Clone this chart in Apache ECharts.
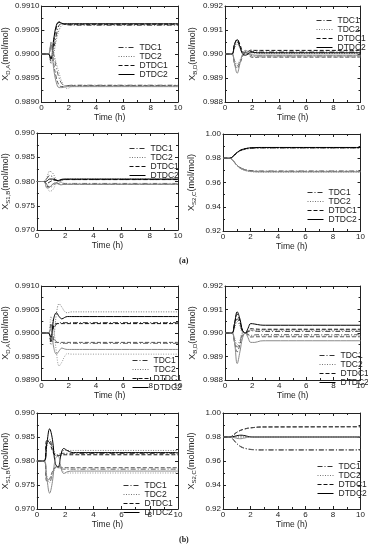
<!DOCTYPE html>
<html>
<head>
<meta charset="utf-8">
<script src="https://cdn.jsdelivr.net/npm/echarts@6/dist/echarts.min.js"></script>
<style>
  html, body { margin: 0; padding: 0; background: #fff; }
  #chart { width: 368px; height: 550px; }
</style>
</head>
<body>
<div id="chart"></div>
<script>
// time axis (h), shared by every curve
const time = [0, 0.5, 0.7, 0.9, 1.1, 1.3, 1.5, 1.7, 1.9, 2.2, 2.6, 3, 10];
const controllers = ["TDC1", "TDC2", "DTDC1", "DTDC2"];

// (a) X_D,A
const a1_TDC1_up = [0.99, 0.99, 0.98985, 0.9901, 0.9904, 0.9906, 0.99063, 0.99062, 0.99061, 0.9906, 0.9906, 0.9906, 0.9906];
const a1_TDC1_dn = [0.99, 0.99, 0.99015, 0.99, 0.9897, 0.9895, 0.98938, 0.98934, 0.98934, 0.98935, 0.98935, 0.98935, 0.98935];
const a1_TDC2_up = [0.99, 0.99, 0.9898, 0.99, 0.9903, 0.9905, 0.9906, 0.99062, 0.99062, 0.99061, 0.99061, 0.99061, 0.99061];
const a1_TDC2_dn = [0.99, 0.99, 0.9901, 0.99, 0.9898, 0.9896, 0.98942, 0.98932, 0.98928, 0.98932, 0.98934, 0.98934, 0.98934];
const a1_DTDC1_up = [0.99, 0.99, 0.9899, 0.99025, 0.99055, 0.99066, 0.99064, 0.99062, 0.99062, 0.99062, 0.99062, 0.99062, 0.99062];
const a1_DTDC1_dn = [0.99, 0.99, 0.9902, 0.9898, 0.9895, 0.98935, 0.98932, 0.98933, 0.98934, 0.98934, 0.98934, 0.98934, 0.98934];
const a1_DTDC2_up = [0.99, 0.99, 0.9899, 0.9903, 0.9906, 0.99067, 0.99064, 0.99063, 0.99063, 0.99063, 0.99063, 0.99063, 0.99063];
const a1_DTDC2_dn = [0.99, 0.99, 0.99025, 0.9897, 0.9894, 0.9893, 0.9893, 0.98931, 0.98932, 0.98932, 0.98932, 0.98932, 0.98932];

// (a) X_B,D
const a2_TDC1_up = [0.99, 0.99, 0.9903, 0.9905, 0.9903, 0.99005, 0.99, 0.99005, 0.9901, 0.99009, 0.99008, 0.99008, 0.99008];
const a2_TDC1_dn = [0.99, 0.99, 0.9897, 0.9895, 0.9897, 0.98995, 0.9901, 0.99005, 0.98995, 0.98991, 0.98992, 0.98992, 0.98992];
const a2_TDC2_up = [0.99, 0.99, 0.99025, 0.9904, 0.99025, 0.99005, 0.99, 0.99003, 0.99005, 0.99003, 0.99002, 0.99002, 0.99002];
const a2_TDC2_dn = [0.99, 0.99, 0.98975, 0.9896, 0.98975, 0.98995, 0.99012, 0.99005, 0.98992, 0.98987, 0.98988, 0.98988, 0.98988];
const a2_DTDC1_up = [0.99, 0.99, 0.9904, 0.9906, 0.9904, 0.9901, 0.99005, 0.9901, 0.99016, 0.99015, 0.99015, 0.99015, 0.99015];
const a2_DTDC1_dn = [0.99, 0.99, 0.9896, 0.9894, 0.9896, 0.9899, 0.9901, 0.99, 0.98988, 0.98986, 0.98987, 0.98987, 0.98987];
const a2_DTDC2_up = [0.99, 0.99, 0.9904, 0.9906, 0.9903, 0.99, 0.98995, 0.99, 0.99008, 0.99006, 0.99005, 0.99005, 0.99005];
const a2_DTDC2_dn = [0.99, 0.99, 0.9896, 0.9892, 0.9896, 0.99, 0.99015, 0.9901, 0.99, 0.98995, 0.98995, 0.98995, 0.98995];

// (a) X_S1,B
const a3_TDC1_up = [0.98, 0.98, 0.9806, 0.9812, 0.981, 0.9804, 0.9801, 0.9802, 0.9804, 0.9804, 0.9804, 0.9804, 0.9804];
const a3_TDC1_dn = [0.98, 0.98, 0.9794, 0.9788, 0.979, 0.9796, 0.9799, 0.9798, 0.9796, 0.9796, 0.9796, 0.9796, 0.9796];
const a3_TDC2_up = [0.98, 0.98, 0.9808, 0.9821, 0.9818, 0.9808, 0.98, 0.9801, 0.9804, 0.9805, 0.9805, 0.9805, 0.9805];
const a3_TDC2_dn = [0.98, 0.98, 0.9792, 0.978, 0.9782, 0.9792, 0.98, 0.9799, 0.9796, 0.9795, 0.9795, 0.9795, 0.9795];
const a3_DTDC1_up = [0.98, 0.98, 0.9796, 0.9799, 0.9802, 0.9803, 0.9802, 0.9803, 0.9804, 0.9804, 0.9804, 0.9804, 0.9804];
const a3_DTDC1_dn = [0.98, 0.98, 0.979, 0.9789, 0.9794, 0.9797, 0.9796, 0.9794, 0.9794, 0.9794, 0.9794, 0.9794, 0.9794];
const a3_DTDC2_up = [0.98, 0.98, 0.9801, 0.9805, 0.9805, 0.9803, 0.9802, 0.9804, 0.9805, 0.9805, 0.9805, 0.9805, 0.9805];
const a3_DTDC2_dn = [0.98, 0.98, 0.9787, 0.9788, 0.9794, 0.9797, 0.9795, 0.9793, 0.9794, 0.9794, 0.9794, 0.9794, 0.9794];

// (a) X_S2,C
const a4_TDC1_up = [0.98, 0.98, 0.9812, 0.9834, 0.9852, 0.9865, 0.9872, 0.9877, 0.9881, 0.9883, 0.9885, 0.9885, 0.9885];
const a4_TDC1_dn = [0.98, 0.98, 0.9785, 0.9758, 0.9736, 0.972, 0.9711, 0.9704, 0.97, 0.9697, 0.9695, 0.9695, 0.9695];
const a4_TDC2_up = [0.98, 0.98, 0.9812, 0.9833, 0.9851, 0.9863, 0.9871, 0.9876, 0.9879, 0.9881, 0.9883, 0.9883, 0.9883];
const a4_TDC2_dn = [0.98, 0.98, 0.9784, 0.9754, 0.973, 0.9713, 0.9702, 0.9695, 0.9691, 0.9687, 0.9685, 0.9685, 0.9685];
const a4_DTDC1_up = [0.98, 0.98, 0.9812, 0.9835, 0.9854, 0.9867, 0.9875, 0.988, 0.9884, 0.9886, 0.9888, 0.9888, 0.9888];
const a4_DTDC1_dn = [0.98, 0.98, 0.9785, 0.9757, 0.9734, 0.9718, 0.9708, 0.9702, 0.9697, 0.9694, 0.9692, 0.9692, 0.9692];
const a4_DTDC2_up = [0.98, 0.98, 0.9812, 0.9836, 0.9854, 0.9868, 0.9876, 0.9881, 0.9885, 0.9887, 0.9889, 0.9889, 0.9889];
const a4_DTDC2_dn = [0.98, 0.98, 0.9784, 0.9755, 0.9732, 0.9715, 0.9705, 0.9698, 0.9694, 0.969, 0.9688, 0.9688, 0.9688];

// (b) X_D,A
const b1_TDC1_up = [0.99, 0.99, 0.98995, 0.9901, 0.99018, 0.99022, 0.99022, 0.99022, 0.99022, 0.99022, 0.99022, 0.99022, 0.99022];
const b1_TDC1_dn = [0.99, 0.99, 0.99005, 0.9899, 0.98982, 0.98978, 0.98978, 0.98978, 0.98978, 0.98978, 0.98978, 0.98978, 0.98978];
const b1_TDC2_up = [0.99, 0.99, 0.98975, 0.9899, 0.9904, 0.99062, 0.99055, 0.99046, 0.99043, 0.99045, 0.99045, 0.99045, 0.99045];
const b1_TDC2_dn = [0.99, 0.99, 0.99035, 0.9901, 0.9896, 0.9893, 0.98938, 0.9895, 0.98956, 0.98955, 0.98955, 0.98955, 0.98955];
const b1_DTDC1_up = [0.99, 0.99, 0.9898, 0.99015, 0.9902, 0.9902, 0.9902, 0.9902, 0.9902, 0.9902, 0.9902, 0.9902, 0.9902];
const b1_DTDC1_dn = [0.99, 0.99, 0.9902, 0.98985, 0.9898, 0.9898, 0.9898, 0.9898, 0.9898, 0.9898, 0.9898, 0.9898, 0.9898];
const b1_DTDC2_up = [0.99, 0.99, 0.9899, 0.9903, 0.99043, 0.99035, 0.9903, 0.99033, 0.99035, 0.99035, 0.99035, 0.99035, 0.99035];
const b1_DTDC2_dn = [0.99, 0.99, 0.9901, 0.9897, 0.98955, 0.98962, 0.98968, 0.98966, 0.98965, 0.98965, 0.98965, 0.98965, 0.98965];

// (b) X_B,D
const b2_TDC1_up = [0.99, 0.99, 0.9903, 0.9906, 0.9904, 0.99005, 0.99, 0.99005, 0.9901, 0.99008, 0.99007, 0.99007, 0.99007];
const b2_TDC1_dn = [0.99, 0.99, 0.9897, 0.9894, 0.9896, 0.99, 0.99002, 0.98995, 0.9899, 0.98992, 0.98993, 0.98993, 0.98993];
const b2_TDC2_up = [0.99, 0.99, 0.9902, 0.9905, 0.9903, 0.99, 0.98998, 0.99004, 0.9901, 0.99012, 0.99012, 0.99012, 0.99012];
const b2_TDC2_dn = [0.99, 0.99, 0.9898, 0.9895, 0.9897, 0.99, 0.99, 0.98993, 0.98988, 0.98988, 0.98988, 0.98988, 0.98988];
const b2_DTDC1_up = [0.99, 0.99, 0.9904, 0.9908, 0.9905, 0.9901, 0.99, 0.9901, 0.99018, 0.99017, 0.99016, 0.99016, 0.99016];
const b2_DTDC1_dn = [0.99, 0.99, 0.9896, 0.9892, 0.9895, 0.9899, 0.99, 0.9899, 0.98983, 0.98984, 0.98984, 0.98984, 0.98984];
const b2_DTDC2_up = [0.99, 0.99, 0.9904, 0.9909, 0.9906, 0.9901, 0.99, 0.9902, 0.9904, 0.99038, 0.99034, 0.99033, 0.99033];
const b2_DTDC2_dn = [0.99, 0.99, 0.9896, 0.9887, 0.9892, 0.9898, 0.99, 0.9898, 0.9896, 0.9896, 0.98966, 0.98967, 0.98967];

// (b) X_S1,B
const b3_TDC1_up = [0.98, 0.98, 0.9838, 0.9842, 0.9826, 0.9812, 0.9812, 0.9815, 0.9816, 0.9816, 0.9816, 0.9816, 0.9816];
const b3_TDC1_dn = [0.98, 0.98, 0.9762, 0.9758, 0.9773, 0.9786, 0.9786, 0.9784, 0.9783, 0.9783, 0.9783, 0.9783, 0.9783];
const b3_TDC2_up = [0.98, 0.98, 0.983, 0.9845, 0.9832, 0.9815, 0.9813, 0.9818, 0.9822, 0.9822, 0.9822, 0.9822, 0.9822];
const b3_TDC2_dn = [0.98, 0.98, 0.977, 0.9755, 0.9768, 0.9785, 0.9787, 0.9782, 0.9777, 0.9775, 0.9775, 0.9775, 0.9775];
const b3_DTDC1_up = [0.98, 0.98, 0.9843, 0.9838, 0.9822, 0.9812, 0.9811, 0.9812, 0.9813, 0.9813, 0.9813, 0.9813, 0.9813];
const b3_DTDC1_dn = [0.98, 0.98, 0.9758, 0.9763, 0.9778, 0.9787, 0.9788, 0.9787, 0.9786, 0.9786, 0.9786, 0.9786, 0.9786];
const b3_DTDC2_up = [0.98, 0.98, 0.9835, 0.9867, 0.9845, 0.9795, 0.9787, 0.9812, 0.9826, 0.9821, 0.98175, 0.98175, 0.98175];
const b3_DTDC2_dn = [0.98, 0.98, 0.9765, 0.9733, 0.9757, 0.9805, 0.981, 0.9788, 0.9774, 0.9778, 0.9779, 0.9779, 0.9779];

// (b) X_S2,C
const b4_TDC1_up = [0.98, 0.98, 0.9785, 0.9757, 0.9734, 0.9718, 0.9708, 0.9702, 0.9697, 0.9694, 0.9692, 0.9692, 0.9692];
const b4_TDC1_dn = [0.98, 0.98, 0.9786, 0.9758, 0.9736, 0.972, 0.971, 0.9704, 0.9699, 0.9695, 0.9693, 0.9693, 0.9693];
const b4_TDC2_up = [0.98, 0.98, 0.9801, 0.9804, 0.9806, 0.9805, 0.9803, 0.9801, 0.98, 0.98, 0.98, 0.98, 0.98];
const b4_TDC2_dn = [0.98, 0.98, 0.9799, 0.9796, 0.9794, 0.9795, 0.9797, 0.9799, 0.98, 0.98, 0.98, 0.98, 0.98];
const b4_DTDC1_up = [0.98, 0.98, 0.9812, 0.9831, 0.9846, 0.9857, 0.9865, 0.9871, 0.9875, 0.9879, 0.9883, 0.9884, 0.9886];
const b4_DTDC1_dn = [0.98, 0.98, 0.9811, 0.983, 0.9845, 0.9856, 0.9864, 0.987, 0.9874, 0.9878, 0.9882, 0.9883, 0.9885];
const b4_DTDC2_up = [0.98, 0.98, 0.9802, 0.9808, 0.9813, 0.9815, 0.9813, 0.9808, 0.9803, 0.98, 0.98, 0.98, 0.98];
const b4_DTDC2_dn = [0.98, 0.98, 0.9798, 0.9792, 0.9787, 0.9786, 0.979, 0.9795, 0.9799, 0.98, 0.98, 0.98, 0.98];

// y-axis ticks per variable
const yTicksDA = { min: 0.989, max: 0.991, step: 0.0005, digits: 4 };
const yTicksBD = { min: 0.988, max: 0.992, step: 0.001, digits: 3 };
const yTicksS1B = { min: 0.97, max: 0.99, step: 0.005, digits: 3 };
const yTicksS2C = { min: 0.92, max: 1.0, step: 0.02, digits: 2 };

// layout of the eight panels: [left, top, width, height], legend pos, y name gap
const panels = [
  { box: [39, 6, 139, 96], sub: "D,A", ticks: yTicksDA, gap: 25, legend: [113, 38],
    curves: { TDC1: [a1_TDC1_up, a1_TDC1_dn], TDC2: [a1_TDC2_up, a1_TDC2_dn], DTDC1: [a1_DTDC1_up, a1_DTDC1_dn], DTDC2: [a1_DTDC2_up, a1_DTDC2_dn] } },
  { box: [225, 6, 137, 96], sub: "B,D", ticks: yTicksBD, gap: 27, legend: [311, 11],
    curves: { TDC1: [a2_TDC1_up, a2_TDC1_dn], TDC2: [a2_TDC2_up, a2_TDC2_dn], DTDC1: [a2_DTDC1_up, a2_DTDC1_dn], DTDC2: [a2_DTDC2_up, a2_DTDC2_dn] } },
  { box: [34, 133, 144, 97], sub: "S1,B", ticks: yTicksS1B, gap: 22, legend: [124, 139],
    curves: { TDC1: [a3_TDC1_up, a3_TDC1_dn], TDC2: [a3_TDC2_up, a3_TDC2_dn], DTDC1: [a3_DTDC1_up, a3_DTDC1_dn], DTDC2: [a3_DTDC2_up, a3_DTDC2_dn] } },
  { box: [223, 134, 139, 97], sub: "S2,C", ticks: yTicksS2C, gap: 26, legend: [302, 183],
    curves: { TDC1: [a4_TDC1_up, a4_TDC1_dn], TDC2: [a4_TDC2_up, a4_TDC2_dn], DTDC1: [a4_DTDC1_up, a4_DTDC1_dn], DTDC2: [a4_DTDC2_up, a4_DTDC2_dn] } },
  { box: [38, 286, 140, 94], sub: "D,A", ticks: yTicksDA, gap: 25, legend: [127, 351],
    curves: { TDC1: [b1_TDC1_up, b1_TDC1_dn], TDC2: [b1_TDC2_up, b1_TDC2_dn], DTDC1: [b1_DTDC1_up, b1_DTDC1_dn], DTDC2: [b1_DTDC2_up, b1_DTDC2_dn] } },
  { box: [225, 286, 137, 94], sub: "B,D", ticks: yTicksBD, gap: 27, legend: [314, 346],
    curves: { TDC1: [b2_TDC1_up, b2_TDC1_dn], TDC2: [b2_TDC2_up, b2_TDC2_dn], DTDC1: [b2_DTDC1_up, b2_DTDC1_dn], DTDC2: [b2_DTDC2_up, b2_DTDC2_dn] } },
  { box: [34, 413, 144, 96], sub: "S1,B", ticks: yTicksS1B, gap: 22, legend: [118, 476],
    curves: { TDC1: [b3_TDC1_up, b3_TDC1_dn], TDC2: [b3_TDC2_up, b3_TDC2_dn], DTDC1: [b3_DTDC1_up, b3_DTDC1_dn], DTDC2: [b3_DTDC2_up, b3_DTDC2_dn] } },
  { box: [223, 413, 139, 96], sub: "S2,C", ticks: yTicksS2C, gap: 26, legend: [312, 457],
    curves: { TDC1: [b4_TDC1_up, b4_TDC1_dn], TDC2: [b4_TDC2_up, b4_TDC2_dn], DTDC1: [b4_DTDC1_up, b4_DTDC1_dn], DTDC2: [b4_DTDC2_up, b4_DTDC2_dn] } },
];

// line styles: dash-dot, dotted, dashed, solid
const dashes = { TDC1: [5, 2, 1, 2], TDC2: [1, 1.5], DTDC1: [4, 2], DTDC2: "solid" };
const colorsUp = { TDC1: "#333", TDC2: "#777", DTDC1: "#111", DTDC2: "#000" };
const colorsDn = { TDC1: "#666", TDC2: "#999", DTDC1: "#555", DTDC2: "#8a8a8a" };

const ink = "#222";
const font = "Liberation Sans";

const chart = echarts.init(document.getElementById("chart"));
const grids = [], xAxes = [], yAxes = [], legends = [], series = [];

panels.forEach((p, i) => {
  grids.push({ left: p.box[0], top: p.box[1], width: p.box[2], height: p.box[3] });
  const line = { lineStyle: { color: ink, width: 1 } };
  const tick = { inside: true, length: 3, lineStyle: { color: ink } };
  const minor = { show: true, splitNumber: 2, length: 2, lineStyle: { color: ink } };
  // bottom / top x axes
  xAxes.push({
    gridIndex: i, type: "value", min: 0, max: 10, interval: 2,
    name: "Time (h)", nameLocation: "middle", nameGap: 10,
    nameTextStyle: { fontSize: 8.5, color: ink, fontFamily: font },
    axisLine: { onZero: false, ...line }, axisTick: tick, minorTick: minor,
    splitLine: { show: false },
    axisLabel: { fontSize: 8, color: ink, fontFamily: font, margin: 2 },
  });
  xAxes.push({
    gridIndex: i, type: "value", position: "top", min: 0, max: 10, interval: 2,
    axisLine: { onZero: false, ...line }, axisTick: tick, minorTick: minor,
    splitLine: { show: false }, axisLabel: { show: false },
  });
  // left / right y axes
  const t = p.ticks;
  yAxes.push({
    gridIndex: i, type: "value", min: t.min, max: t.max, interval: t.step,
    name: "{x|X}{s|" + p.sub + "}{x|(mol/mol)}", nameLocation: "middle", nameGap: p.gap,
    nameTextStyle: {
      color: ink, fontFamily: font,
      rich: {
        x: { fontSize: 9, color: ink, fontFamily: font },
        s: { fontSize: 6, color: ink, fontFamily: font, verticalAlign: "bottom", padding: [5, 0, 0, 0] },
      },
    },
    axisLine: { onZero: false, ...line }, axisTick: tick, minorTick: minor,
    splitLine: { show: false },
    axisLabel: { fontSize: 8, color: ink, fontFamily: font, margin: 2, formatter: (v) => v.toFixed(t.digits) },
  });
  yAxes.push({
    gridIndex: i, type: "value", position: "right", min: t.min, max: t.max, interval: t.step,
    axisLine: { onZero: false, ...line }, axisTick: tick, minorTick: minor,
    splitLine: { show: false }, axisLabel: { show: false },
  });

  // legend: keep the dashed line icon, hide the symbol marker
  legends.push({
    data: controllers, orient: "vertical", left: p.legend[0], top: p.legend[1],
    itemWidth: 16, itemHeight: 9, itemGap: 0, selectedMode: false,
    itemStyle: { color: "rgba(0,0,0,0)", borderWidth: 0, borderColor: "rgba(0,0,0,0)" },
    lineStyle: { width: 1 },
    textStyle: { fontSize: 8.5, color: ink, fontFamily: font, lineHeight: 9 },
  });

  controllers.forEach((c) => {
    p.curves[c].forEach((vals, k) => {
      const color = k === 0 ? colorsUp[c] : colorsDn[c];
      series.push({
        name: c, type: "line", xAxisIndex: 2 * i, yAxisIndex: 2 * i,
        data: time.map((tt, j) => [tt, vals[j]]),
        smooth: 0.4, symbol: "none", silent: true,
        lineStyle: { color: color, width: 1, type: dashes[c] },
        itemStyle: { color: color },
      });
    });
  });
});

const option = {
  animation: false,
  backgroundColor: "#fff",
  grid: grids,
  xAxis: xAxes,
  yAxis: yAxes,
  legend: legends,
  series: series,
  graphic: [
    { type: "text", left: 179, top: 257, style: { text: "(a)", font: "bold 8px 'Liberation Serif'", fill: ink } },
    { type: "text", left: 179, top: 536, style: { text: "(b)", font: "bold 8px 'Liberation Serif'", fill: ink } },
  ],
};
chart.setOption(option);
window.addEventListener("resize", function () {
  chart.resize();
});
</script>
</body>
</html>
